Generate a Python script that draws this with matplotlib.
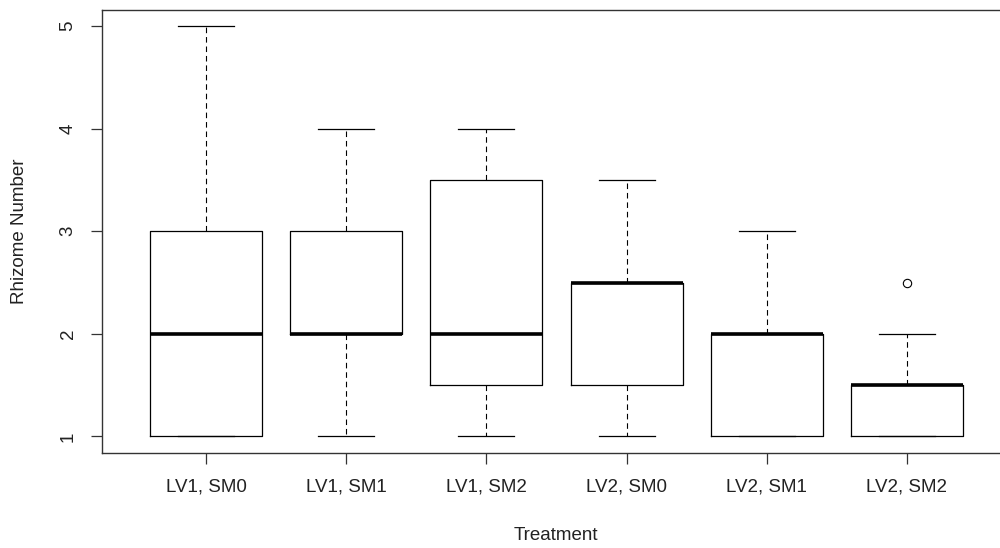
import matplotlib
matplotlib.use("Agg")
import matplotlib.pyplot as plt

# Rhizome counts per treatment, summarised as box statistics
treatments = ["LV1, SM0", "LV1, SM1", "LV1, SM2", "LV2, SM0", "LV2, SM1", "LV2, SM2"]
whisker_low = [1, 1, 1, 1, 1, 1]
quartile_1 = [1, 2, 1.5, 1.5, 1, 1]
medians = [2, 2, 2, 2.5, 2, 1.5]
quartile_3 = [3, 3, 3.5, 2.5, 2, 1.5]
whisker_high = [5, 4, 4, 3.5, 3, 2]
outliers = [[], [], [], [], [], [2.5]]

plt.rcParams["font.family"] = ["Liberation Sans", "DejaVu Sans"]

stats = []
for i, name in enumerate(treatments):
    stats.append(dict(label=name, whislo=whisker_low[i], q1=quartile_1[i],
                      med=medians[i], q3=quartile_3[i], whishi=whisker_high[i],
                      fliers=outliers[i]))

fig = plt.figure(figsize=(10, 5.48), dpi=100)
W, H = 1000, 548
left, right, top, bottom = 102.3, 1010.7, 9.6, 452.9
ax = fig.add_axes([left / W, 1 - bottom / H, (right - left) / W, (bottom - top) / H])

ax.bxp(stats, positions=range(1, 7), widths=0.8, capwidths=0.4,
       showfliers=True,
       boxprops=dict(color="black", linewidth=0.9),
       medianprops=dict(color="black", linewidth=2.6, solid_capstyle="butt"),
       whiskerprops=dict(color="black", linewidth=0.8, linestyle=(0, (5, 3.5))),
       capprops=dict(color="black", linewidth=0.9),
       flierprops=dict(marker="o", markersize=6, markerfacecolor="none",
                       markeredgecolor="black", markeredgewidth=0.8))

ax.set_xlim(0.26, 6.74)
ax.set_ylim(0.84, 5.16)
ax.set_yticks([1, 2, 3, 4, 5])
ax.set_xticks(range(1, 7))
ax.set_xticklabels(treatments)
for lbl in ax.get_yticklabels():
    lbl.set_rotation(90)
    lbl.set_va("center")

for sp in ax.spines.values():
    sp.set_color("#333333")
    sp.set_linewidth(1.0)

ax.tick_params(axis="both", direction="out", length=8, width=0.9,
               color="#333333", labelsize=13.5, labelcolor="#222222")
ax.tick_params(axis="x", pad=10.5)
ax.tick_params(axis="y", pad=10.5)

fig.text(556 / W, 1 - 535.5 / H, "Treatment", ha="center", va="center",
         fontsize=13.5, color="#222222")
fig.text(20 / W, 1 - 231 / H, "Rhizome Number", ha="center", va="center",
         rotation=90, fontsize=13.5, color="#222222")

fig.savefig("out.png", dpi=100)
